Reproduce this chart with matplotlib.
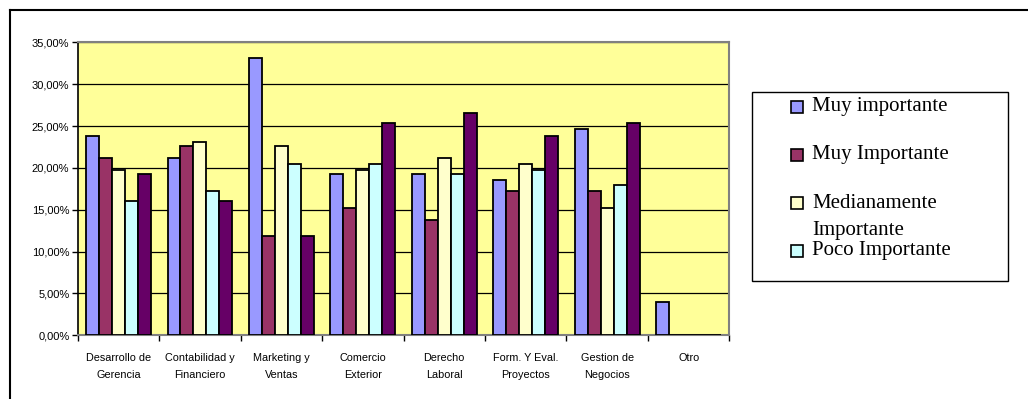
import matplotlib
matplotlib.use("Agg")
import matplotlib.pyplot as plt
import numpy as np
from matplotlib.patches import Rectangle
from matplotlib.lines import Line2D
from matplotlib.ticker import FuncFormatter, MultipleLocator

categories = ["Desarrollo de\nGerencia", "Contabilidad y\nFinanciero", "Marketing y\nVentas",
              "Comercio\nExterior", "Derecho\nLaboral", "Form. Y Eval.\nProyectos",
              "Gestion de\nNegocios", "Otro"]
series_names = ["Muy importante", "Muy Importante", "Medianamente\nImportante",
                "Poco Importante", "Nada Importante"]
series_colors = ["#9999FF", "#993366", "#FFFFCC", "#CCFFFF", "#660066"]

muy_importante_1 = [23.8, 21.2, 33.1, 19.3, 19.3, 18.6, 24.6, 4.0]
muy_importante_2 = [21.2, 22.6, 11.9, 15.2, 13.8, 17.2, 17.2, 0.0]
medianamente = [19.8, 23.1, 22.6, 19.8, 21.2, 20.5, 15.2, 0.0]
poco_importante = [16.0, 17.2, 20.5, 20.5, 19.3, 19.8, 17.9, 0.0]
nada_importante = [19.3, 16.0, 11.9, 25.3, 26.5, 23.8, 25.3, 0.0]
values = [muy_importante_1, muy_importante_2, medianamente, poco_importante, nada_importante]

fig = plt.figure(figsize=(10.28, 3.99), dpi=100)
ax = fig.add_axes([0.0756, 0.1597, 0.6339, 0.7343])
ax.set_facecolor("#FFFF99")

x = np.arange(len(categories))
width = 0.159
for i, (vals, col) in enumerate(zip(values, series_colors)):
    ax.bar(x + (i - 2) * width, vals, width, color=col, edgecolor="black",
           linewidth=1.3, zorder=3)

ax.set_xlim(-0.5, len(categories) - 0.5)
ax.set_ylim(0, 35)
ax.yaxis.set_major_locator(MultipleLocator(5))
ax.yaxis.set_major_formatter(FuncFormatter(lambda v, p: f"{v:.2f}%".replace(".", ",")))
ax.grid(axis="y", color="black", linewidth=0.9, zorder=1)

ax.set_xticks(x)
ax.set_xticklabels(categories, fontsize=7.8, linespacing=1.85, family="Liberation Sans")
ax.set_xticks(np.arange(-0.5, len(categories)), minor=True)
ax.tick_params(axis="x", which="major", length=0, pad=13)
ax.tick_params(axis="x", which="minor", length=4, width=1)
ax.tick_params(axis="y", length=4, width=1, labelsize=8, pad=2)
for lab in ax.get_yticklabels():
    lab.set_family("Liberation Sans")

for side in ["top", "right"]:
    ax.spines[side].set_color("#808080")
    ax.spines[side].set_linewidth(1.5)
ax.spines["left"].set_linewidth(1.2)
ax.spines["bottom"].set_color("#808080")
ax.spines["bottom"].set_linewidth(1.5)

# legend box drawn by hand, the long label wraps onto a second line
W, H = 1028.0, 399.0
fig.add_artist(Rectangle((751.7 / W, 1 - 281 / H), 256 / W, 189.3 / H,
                         transform=fig.transFigure, facecolor="white",
                         edgecolor="black", linewidth=1.0))
rows = [106.7, 155.0, 203.0, 251.0]
for yy, name, col in zip(rows, series_names[:4], series_colors[:4]):
    fig.add_artist(Rectangle((791 / W, 1 - (yy + 6) / H), 12 / W, 12 / H,
                             transform=fig.transFigure, facecolor=col,
                             edgecolor="black", linewidth=1.2))
    for k, line in enumerate(name.split("\n")):
        fig.text(812 / W, 1 - (yy + 27 * k) / H, line, fontsize=15,
                 family="Liberation Serif", va="center", ha="left")

# outer frame
fig.add_artist(Line2D([10 / W, 1.0], [1 - 9.5 / H] * 2, transform=fig.transFigure,
                      color="black", linewidth=1.5))
fig.add_artist(Line2D([10 / W] * 2, [0.0, 1 - 9.5 / H], transform=fig.transFigure,
                      color="black", linewidth=1.5))

fig.savefig("out.png", dpi=100)
